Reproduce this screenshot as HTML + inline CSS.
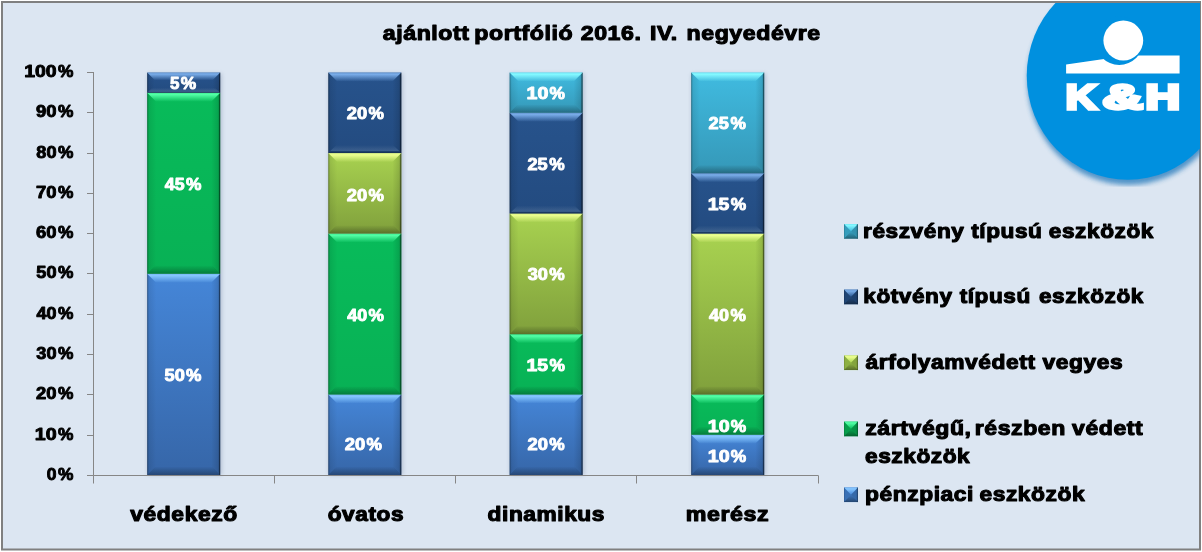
<!DOCTYPE html>
<html lang="hu"><head><meta charset="utf-8"><title>ajánlott portfólió</title>
<style>html,body{margin:0;padding:0;background:#fff;overflow:hidden}svg{display:block}</style></head>
<body>
<svg width="1202" height="552" viewBox="0 0 1202 552">
<defs>
<linearGradient id="h_penz" x1="0" y1="0" x2="0" y2="1"><stop offset="0" stop-color="#86c6ff" stop-opacity="0.75"/><stop offset="0.2" stop-color="#86c6ff" stop-opacity="1"/><stop offset="0.6" stop-color="#86c6ff" stop-opacity="0.5"/><stop offset="1" stop-color="#86c6ff" stop-opacity="0.0"/></linearGradient>
<linearGradient id="g_penz" x1="0" y1="0" x2="0" y2="1"><stop offset="0" stop-color="#4586d8"/><stop offset="1" stop-color="#3666a8"/></linearGradient>
<linearGradient id="h_zart" x1="0" y1="0" x2="0" y2="1"><stop offset="0" stop-color="#52ffa6" stop-opacity="0.75"/><stop offset="0.2" stop-color="#52ffa6" stop-opacity="1"/><stop offset="0.6" stop-color="#52ffa6" stop-opacity="0.5"/><stop offset="1" stop-color="#52ffa6" stop-opacity="0.0"/></linearGradient>
<linearGradient id="g_zart" x1="0" y1="0" x2="0" y2="1"><stop offset="0" stop-color="#08bb5a"/><stop offset="1" stop-color="#08b155"/></linearGradient>
<linearGradient id="h_arf" x1="0" y1="0" x2="0" y2="1"><stop offset="0" stop-color="#ecff90" stop-opacity="0.75"/><stop offset="0.2" stop-color="#ecff90" stop-opacity="1"/><stop offset="0.6" stop-color="#ecff90" stop-opacity="0.5"/><stop offset="1" stop-color="#ecff90" stop-opacity="0.0"/></linearGradient>
<linearGradient id="g_arf" x1="0" y1="0" x2="0" y2="1"><stop offset="0" stop-color="#a8d250"/><stop offset="1" stop-color="#80a03c"/></linearGradient>
<linearGradient id="h_kot" x1="0" y1="0" x2="0" y2="1"><stop offset="0" stop-color="#79ace8" stop-opacity="0.75"/><stop offset="0.2" stop-color="#79ace8" stop-opacity="1"/><stop offset="0.6" stop-color="#79ace8" stop-opacity="0.5"/><stop offset="1" stop-color="#79ace8" stop-opacity="0.0"/></linearGradient>
<linearGradient id="g_kot" x1="0" y1="0" x2="0" y2="1"><stop offset="0" stop-color="#27538c"/><stop offset="1" stop-color="#234b80"/></linearGradient>
<linearGradient id="h_resz" x1="0" y1="0" x2="0" y2="1"><stop offset="0" stop-color="#84f8ff" stop-opacity="0.75"/><stop offset="0.2" stop-color="#84f8ff" stop-opacity="1"/><stop offset="0.6" stop-color="#84f8ff" stop-opacity="0.5"/><stop offset="1" stop-color="#84f8ff" stop-opacity="0.0"/></linearGradient>
<linearGradient id="g_resz" x1="0" y1="0" x2="0" y2="1"><stop offset="0" stop-color="#40bbe0"/><stop offset="1" stop-color="#3598b8"/></linearGradient>
<linearGradient id="hl" x1="0" y1="0" x2="0" y2="1"><stop offset="0" stop-color="#fff" stop-opacity="0.28"/><stop offset="0.3" stop-color="#fff" stop-opacity="0.42"/><stop offset="1" stop-color="#fff" stop-opacity="0.02"/></linearGradient>
<linearGradient id="sh" x1="0" y1="0" x2="0" y2="1"><stop offset="0" stop-color="#000" stop-opacity="0.02"/><stop offset="1" stop-color="#000" stop-opacity="0.30"/></linearGradient>
<linearGradient id="shk" x1="0" y1="0" x2="0" y2="1"><stop offset="0" stop-color="#9ab" stop-opacity="0.0"/><stop offset="0.75" stop-color="#9ab" stop-opacity="0.22"/><stop offset="0.8" stop-color="#000" stop-opacity="0.15"/><stop offset="1" stop-color="#000" stop-opacity="0.4"/></linearGradient>
<linearGradient id="sh2" x1="0" y1="0" x2="0" y2="1"><stop offset="0" stop-color="#000" stop-opacity="0.12"/><stop offset="1" stop-color="#000" stop-opacity="0.48"/></linearGradient>
<linearGradient id="sl" x1="0" y1="0" x2="1" y2="0"><stop offset="0" stop-color="#000" stop-opacity="0.22"/><stop offset="0.25" stop-color="#000" stop-opacity="0.08"/><stop offset="1" stop-color="#000" stop-opacity="0.0"/></linearGradient>
<linearGradient id="sr" x1="1" y1="0" x2="0" y2="0"><stop offset="0" stop-color="#000" stop-opacity="0.40"/><stop offset="0.25" stop-color="#000" stop-opacity="0.12"/><stop offset="1" stop-color="#000" stop-opacity="0.0"/></linearGradient>
<filter id="blur" x="-20%" y="-5%" width="140%" height="110%"><feGaussianBlur stdDeviation="2.2"/></filter>
<filter id="blur2" x="-20%" y="-20%" width="140%" height="140%"><feGaussianBlur stdDeviation="2.6"/></filter>
<clipPath id="clipsh"><rect x="1000" y="3" width="200" height="183.7"/></clipPath>
<clipPath id="clipin"><rect x="3" y="3" width="1197" height="545.5"/></clipPath>
</defs>
<rect x="0" y="0" width="1202" height="552" fill="#fff"/>
<rect x="2" y="2" width="1198" height="547.5" fill="#dce6f2" stroke="#808080" stroke-width="2"/>
<g clip-path="url(#clipin)">
<g clip-path="url(#clipsh)"><ellipse cx="1128.6" cy="81" rx="101" ry="104" fill="#2f7fbd" opacity="0.8" filter="url(#blur2)"/></g>
<ellipse cx="1127.8" cy="75.7" rx="101.05" ry="104.15" fill="#0090df"/>
<polygon points="1066.1,73.5 1066.1,64.5 1104,59.1 1120,59 1134,55.6 1179.6,55.6 1179.6,73.5" fill="#fff"/>
<circle cx="1119.2" cy="40.6" r="24.3" fill="#0090df"/>
<circle cx="1123.3" cy="40.5" r="19.9" fill="#fff"/>
</g>
<rect x="147.70" y="73.60" width="74.00" height="401.40" fill="#5a6a8a" opacity="0.32" filter="url(#blur)"/>
<rect x="328.80" y="73.60" width="74.00" height="401.40" fill="#5a6a8a" opacity="0.32" filter="url(#blur)"/>
<rect x="510.10" y="73.60" width="74.00" height="401.40" fill="#5a6a8a" opacity="0.32" filter="url(#blur)"/>
<rect x="691.70" y="73.60" width="74.00" height="401.40" fill="#5a6a8a" opacity="0.32" filter="url(#blur)"/>
<rect x="147.20" y="273.80" width="73.00" height="201.20" fill="url(#g_penz)"/>
<polygon points="147.20,273.80 156.20,282.80 156.20,467.00 147.20,475.00" fill="url(#sl)"/>
<polygon points="220.20,273.80 211.20,282.80 211.20,467.00 220.20,475.00" fill="url(#sr)"/>
<rect x="219.10" y="273.80" width="1.1" height="201.20" fill="#000" opacity="0.38"/>
<rect x="147.20" y="273.80" width="0.9" height="201.20" fill="#000" opacity="0.18"/>
<polygon points="147.20,273.80 220.20,273.80 211.20,282.80 156.20,282.80" fill="url(#h_penz)"/>
<polygon points="147.20,475.00 220.20,475.00 212.20,467.00 155.20,467.00" fill="url(#sh)"/>
<rect x="147.20" y="92.72" width="73.00" height="181.08" fill="url(#g_zart)"/>
<polygon points="147.20,92.72 156.20,101.72 156.20,265.80 147.20,273.80" fill="url(#sl)"/>
<polygon points="220.20,92.72 211.20,101.72 211.20,265.80 220.20,273.80" fill="url(#sr)"/>
<rect x="219.10" y="92.72" width="1.1" height="181.08" fill="#000" opacity="0.38"/>
<rect x="147.20" y="92.72" width="0.9" height="181.08" fill="#000" opacity="0.18"/>
<polygon points="147.20,92.72 220.20,92.72 211.20,101.72 156.20,101.72" fill="url(#h_zart)"/>
<polygon points="147.20,273.80 220.20,273.80 212.20,265.80 155.20,265.80" fill="url(#sh)"/>
<rect x="147.20" y="72.60" width="73.00" height="20.12" fill="url(#g_kot)"/>
<polygon points="147.20,72.60 154.85,80.25 154.85,87.69 147.20,92.72" fill="url(#sl)"/>
<polygon points="220.20,72.60 212.55,80.25 212.55,87.69 220.20,92.72" fill="url(#sr)"/>
<rect x="219.10" y="72.60" width="1.1" height="20.12" fill="#000" opacity="0.38"/>
<rect x="147.20" y="72.60" width="0.9" height="20.12" fill="#000" opacity="0.18"/>
<polygon points="147.20,72.60 220.20,72.60 212.55,80.25 154.85,80.25" fill="url(#h_kot)"/>
<polygon points="147.20,92.72 220.20,92.72 215.17,87.69 152.23,87.69" fill="url(#shk)"/>
<rect x="328.30" y="394.52" width="73.00" height="80.48" fill="url(#g_penz)"/>
<polygon points="328.30,394.52 337.30,403.52 337.30,467.00 328.30,475.00" fill="url(#sl)"/>
<polygon points="401.30,394.52 392.30,403.52 392.30,467.00 401.30,475.00" fill="url(#sr)"/>
<rect x="400.20" y="394.52" width="1.1" height="80.48" fill="#000" opacity="0.38"/>
<rect x="328.30" y="394.52" width="0.9" height="80.48" fill="#000" opacity="0.18"/>
<polygon points="328.30,394.52 401.30,394.52 392.30,403.52 337.30,403.52" fill="url(#h_penz)"/>
<polygon points="328.30,475.00 401.30,475.00 393.30,467.00 336.30,467.00" fill="url(#sh)"/>
<rect x="328.30" y="233.56" width="73.00" height="160.96" fill="url(#g_zart)"/>
<polygon points="328.30,233.56 337.30,242.56 337.30,386.52 328.30,394.52" fill="url(#sl)"/>
<polygon points="401.30,233.56 392.30,242.56 392.30,386.52 401.30,394.52" fill="url(#sr)"/>
<rect x="400.20" y="233.56" width="1.1" height="160.96" fill="#000" opacity="0.38"/>
<rect x="328.30" y="233.56" width="0.9" height="160.96" fill="#000" opacity="0.18"/>
<polygon points="328.30,233.56 401.30,233.56 392.30,242.56 337.30,242.56" fill="url(#h_zart)"/>
<polygon points="328.30,394.52 401.30,394.52 393.30,386.52 336.30,386.52" fill="url(#sh)"/>
<rect x="328.30" y="153.08" width="73.00" height="80.48" fill="url(#g_arf)"/>
<polygon points="328.30,153.08 337.30,162.08 337.30,225.56 328.30,233.56" fill="url(#sl)"/>
<polygon points="401.30,153.08 392.30,162.08 392.30,225.56 401.30,233.56" fill="url(#sr)"/>
<rect x="400.20" y="153.08" width="1.1" height="80.48" fill="#000" opacity="0.38"/>
<rect x="328.30" y="153.08" width="0.9" height="80.48" fill="#000" opacity="0.18"/>
<polygon points="328.30,153.08 401.30,153.08 392.30,162.08 337.30,162.08" fill="url(#h_arf)"/>
<polygon points="328.30,233.56 401.30,233.56 393.30,225.56 336.30,225.56" fill="url(#sh)"/>
<rect x="328.30" y="72.60" width="73.00" height="80.48" fill="url(#g_kot)"/>
<polygon points="328.30,72.60 337.30,81.60 337.30,145.08 328.30,153.08" fill="url(#sl)"/>
<polygon points="401.30,72.60 392.30,81.60 392.30,145.08 401.30,153.08" fill="url(#sr)"/>
<rect x="400.20" y="72.60" width="1.1" height="80.48" fill="#000" opacity="0.38"/>
<rect x="328.30" y="72.60" width="0.9" height="80.48" fill="#000" opacity="0.18"/>
<polygon points="328.30,72.60 401.30,72.60 392.30,81.60 337.30,81.60" fill="url(#h_kot)"/>
<polygon points="328.30,153.08 401.30,153.08 393.30,145.08 336.30,145.08" fill="url(#shk)"/>
<rect x="509.60" y="394.52" width="73.00" height="80.48" fill="url(#g_penz)"/>
<polygon points="509.60,394.52 518.60,403.52 518.60,467.00 509.60,475.00" fill="url(#sl)"/>
<polygon points="582.60,394.52 573.60,403.52 573.60,467.00 582.60,475.00" fill="url(#sr)"/>
<rect x="581.50" y="394.52" width="1.1" height="80.48" fill="#000" opacity="0.38"/>
<rect x="509.60" y="394.52" width="0.9" height="80.48" fill="#000" opacity="0.18"/>
<polygon points="509.60,394.52 582.60,394.52 573.60,403.52 518.60,403.52" fill="url(#h_penz)"/>
<polygon points="509.60,475.00 582.60,475.00 574.60,467.00 517.60,467.00" fill="url(#sh)"/>
<rect x="509.60" y="334.16" width="73.00" height="60.36" fill="url(#g_zart)"/>
<polygon points="509.60,334.16 518.60,343.16 518.60,386.52 509.60,394.52" fill="url(#sl)"/>
<polygon points="582.60,334.16 573.60,343.16 573.60,386.52 582.60,394.52" fill="url(#sr)"/>
<rect x="581.50" y="334.16" width="1.1" height="60.36" fill="#000" opacity="0.38"/>
<rect x="509.60" y="334.16" width="0.9" height="60.36" fill="#000" opacity="0.18"/>
<polygon points="509.60,334.16 582.60,334.16 573.60,343.16 518.60,343.16" fill="url(#h_zart)"/>
<polygon points="509.60,394.52 582.60,394.52 574.60,386.52 517.60,386.52" fill="url(#sh)"/>
<rect x="509.60" y="213.44" width="73.00" height="120.72" fill="url(#g_arf)"/>
<polygon points="509.60,213.44 518.60,222.44 518.60,326.16 509.60,334.16" fill="url(#sl)"/>
<polygon points="582.60,213.44 573.60,222.44 573.60,326.16 582.60,334.16" fill="url(#sr)"/>
<rect x="581.50" y="213.44" width="1.1" height="120.72" fill="#000" opacity="0.38"/>
<rect x="509.60" y="213.44" width="0.9" height="120.72" fill="#000" opacity="0.18"/>
<polygon points="509.60,213.44 582.60,213.44 573.60,222.44 518.60,222.44" fill="url(#h_arf)"/>
<polygon points="509.60,334.16 582.60,334.16 574.60,326.16 517.60,326.16" fill="url(#sh)"/>
<rect x="509.60" y="112.84" width="73.00" height="100.60" fill="url(#g_kot)"/>
<polygon points="509.60,112.84 518.60,121.84 518.60,205.44 509.60,213.44" fill="url(#sl)"/>
<polygon points="582.60,112.84 573.60,121.84 573.60,205.44 582.60,213.44" fill="url(#sr)"/>
<rect x="581.50" y="112.84" width="1.1" height="100.60" fill="#000" opacity="0.38"/>
<rect x="509.60" y="112.84" width="0.9" height="100.60" fill="#000" opacity="0.18"/>
<polygon points="509.60,112.84 582.60,112.84 573.60,121.84 518.60,121.84" fill="url(#h_kot)"/>
<polygon points="509.60,213.44 582.60,213.44 574.60,205.44 517.60,205.44" fill="url(#shk)"/>
<rect x="509.60" y="72.60" width="73.00" height="40.24" fill="url(#g_resz)"/>
<polygon points="509.60,72.60 518.60,81.60 518.60,104.84 509.60,112.84" fill="url(#sl)"/>
<polygon points="582.60,72.60 573.60,81.60 573.60,104.84 582.60,112.84" fill="url(#sr)"/>
<rect x="581.50" y="72.60" width="1.1" height="40.24" fill="#000" opacity="0.38"/>
<rect x="509.60" y="72.60" width="0.9" height="40.24" fill="#000" opacity="0.18"/>
<polygon points="509.60,72.60 582.60,72.60 573.60,81.60 518.60,81.60" fill="url(#h_resz)"/>
<polygon points="509.60,112.84 582.60,112.84 574.60,104.84 517.60,104.84" fill="url(#sh)"/>
<rect x="691.20" y="434.76" width="73.00" height="40.24" fill="url(#g_penz)"/>
<polygon points="691.20,434.76 700.20,443.76 700.20,467.00 691.20,475.00" fill="url(#sl)"/>
<polygon points="764.20,434.76 755.20,443.76 755.20,467.00 764.20,475.00" fill="url(#sr)"/>
<rect x="763.10" y="434.76" width="1.1" height="40.24" fill="#000" opacity="0.38"/>
<rect x="691.20" y="434.76" width="0.9" height="40.24" fill="#000" opacity="0.18"/>
<polygon points="691.20,434.76 764.20,434.76 755.20,443.76 700.20,443.76" fill="url(#h_penz)"/>
<polygon points="691.20,475.00 764.20,475.00 756.20,467.00 699.20,467.00" fill="url(#sh)"/>
<rect x="691.20" y="394.52" width="73.00" height="40.24" fill="url(#g_zart)"/>
<polygon points="691.20,394.52 700.20,403.52 700.20,426.76 691.20,434.76" fill="url(#sl)"/>
<polygon points="764.20,394.52 755.20,403.52 755.20,426.76 764.20,434.76" fill="url(#sr)"/>
<rect x="763.10" y="394.52" width="1.1" height="40.24" fill="#000" opacity="0.38"/>
<rect x="691.20" y="394.52" width="0.9" height="40.24" fill="#000" opacity="0.18"/>
<polygon points="691.20,394.52 764.20,394.52 755.20,403.52 700.20,403.52" fill="url(#h_zart)"/>
<polygon points="691.20,434.76 764.20,434.76 756.20,426.76 699.20,426.76" fill="url(#sh)"/>
<rect x="691.20" y="233.56" width="73.00" height="160.96" fill="url(#g_arf)"/>
<polygon points="691.20,233.56 700.20,242.56 700.20,386.52 691.20,394.52" fill="url(#sl)"/>
<polygon points="764.20,233.56 755.20,242.56 755.20,386.52 764.20,394.52" fill="url(#sr)"/>
<rect x="763.10" y="233.56" width="1.1" height="160.96" fill="#000" opacity="0.38"/>
<rect x="691.20" y="233.56" width="0.9" height="160.96" fill="#000" opacity="0.18"/>
<polygon points="691.20,233.56 764.20,233.56 755.20,242.56 700.20,242.56" fill="url(#h_arf)"/>
<polygon points="691.20,394.52 764.20,394.52 756.20,386.52 699.20,386.52" fill="url(#sh)"/>
<rect x="691.20" y="173.20" width="73.00" height="60.36" fill="url(#g_kot)"/>
<polygon points="691.20,173.20 700.20,182.20 700.20,225.56 691.20,233.56" fill="url(#sl)"/>
<polygon points="764.20,173.20 755.20,182.20 755.20,225.56 764.20,233.56" fill="url(#sr)"/>
<rect x="763.10" y="173.20" width="1.1" height="60.36" fill="#000" opacity="0.38"/>
<rect x="691.20" y="173.20" width="0.9" height="60.36" fill="#000" opacity="0.18"/>
<polygon points="691.20,173.20 764.20,173.20 755.20,182.20 700.20,182.20" fill="url(#h_kot)"/>
<polygon points="691.20,233.56 764.20,233.56 756.20,225.56 699.20,225.56" fill="url(#shk)"/>
<rect x="691.20" y="72.60" width="73.00" height="100.60" fill="url(#g_resz)"/>
<polygon points="691.20,72.60 700.20,81.60 700.20,165.20 691.20,173.20" fill="url(#sl)"/>
<polygon points="764.20,72.60 755.20,81.60 755.20,165.20 764.20,173.20" fill="url(#sr)"/>
<rect x="763.10" y="72.60" width="1.1" height="100.60" fill="#000" opacity="0.38"/>
<rect x="691.20" y="72.60" width="0.9" height="100.60" fill="#000" opacity="0.18"/>
<polygon points="691.20,72.60 764.20,72.60 755.20,81.60 700.20,81.60" fill="url(#h_resz)"/>
<polygon points="691.20,173.20 764.20,173.20 756.20,165.20 699.20,165.20" fill="url(#sh)"/>
<path d="M93.5 72V475.5H818.3" fill="none" stroke="#868686" stroke-width="1"/>
<path d="M87.0 475.5H93.5" stroke="#868686" stroke-width="1"/>
<path d="M87.0 435.5H93.5" stroke="#868686" stroke-width="1"/>
<path d="M87.0 394.5H93.5" stroke="#868686" stroke-width="1"/>
<path d="M87.0 354.5H93.5" stroke="#868686" stroke-width="1"/>
<path d="M87.0 314.5H93.5" stroke="#868686" stroke-width="1"/>
<path d="M87.0 273.5H93.5" stroke="#868686" stroke-width="1"/>
<path d="M87.0 233.5H93.5" stroke="#868686" stroke-width="1"/>
<path d="M87.0 193.5H93.5" stroke="#868686" stroke-width="1"/>
<path d="M87.0 153.5H93.5" stroke="#868686" stroke-width="1"/>
<path d="M87.0 112.5H93.5" stroke="#868686" stroke-width="1"/>
<path d="M87.0 72.5H93.5" stroke="#868686" stroke-width="1"/>
<path d="M93.5 475.5V483.5" stroke="#868686" stroke-width="1"/>
<path d="M274.5 475.5V483.5" stroke="#868686" stroke-width="1"/>
<path d="M455.5 475.5V483.5" stroke="#868686" stroke-width="1"/>
<path d="M636.5 475.5V483.5" stroke="#868686" stroke-width="1"/>
<path d="M818.5 475.5V483.5" stroke="#868686" stroke-width="1"/>
<rect x="844.0" y="224.0" width="14.0" height="14.7" fill="#40bbe0"/>
<polygon points="844.0,224.0 858.0,224.0 851.0,231.35" fill="url(#h_resz)"/>
<polygon points="844.0,238.7 858.0,238.7 851.0,231.35" fill="url(#sh2)"/>
<polygon points="844.0,224.0 844.0,238.7 851.0,231.35" fill="#000" opacity="0.16"/>
<polygon points="858.0,224.0 858.0,238.7 851.0,231.35" fill="#000" opacity="0.22"/>
<rect x="856.8" y="224.0" width="1.2" height="14.7" fill="#000" opacity="0.3"/>
<rect x="844.0" y="224.0" width="0.8" height="14.7" fill="#000" opacity="0.15"/>
<rect x="844.0" y="289.6" width="14.0" height="14.7" fill="#27538c"/>
<polygon points="844.0,289.6 858.0,289.6 851.0,296.95000000000005" fill="url(#h_kot)"/>
<polygon points="844.0,304.3 858.0,304.3 851.0,296.95000000000005" fill="url(#sh2)"/>
<polygon points="844.0,289.6 844.0,304.3 851.0,296.95000000000005" fill="#000" opacity="0.16"/>
<polygon points="858.0,289.6 858.0,304.3 851.0,296.95000000000005" fill="#000" opacity="0.22"/>
<rect x="856.8" y="289.6" width="1.2" height="14.7" fill="#000" opacity="0.3"/>
<rect x="844.0" y="289.6" width="0.8" height="14.7" fill="#000" opacity="0.15"/>
<rect x="844.0" y="355.4" width="14.0" height="14.7" fill="#a8d250"/>
<polygon points="844.0,355.4 858.0,355.4 851.0,362.75" fill="url(#h_arf)"/>
<polygon points="844.0,370.09999999999997 858.0,370.09999999999997 851.0,362.75" fill="url(#sh2)"/>
<polygon points="844.0,355.4 844.0,370.09999999999997 851.0,362.75" fill="#000" opacity="0.16"/>
<polygon points="858.0,355.4 858.0,370.09999999999997 851.0,362.75" fill="#000" opacity="0.22"/>
<rect x="856.8" y="355.4" width="1.2" height="14.7" fill="#000" opacity="0.3"/>
<rect x="844.0" y="355.4" width="0.8" height="14.7" fill="#000" opacity="0.15"/>
<rect x="844.0" y="421.6" width="14.0" height="14.7" fill="#08bb5a"/>
<polygon points="844.0,421.6 858.0,421.6 851.0,428.95000000000005" fill="url(#h_zart)"/>
<polygon points="844.0,436.3 858.0,436.3 851.0,428.95000000000005" fill="url(#sh2)"/>
<polygon points="844.0,421.6 844.0,436.3 851.0,428.95000000000005" fill="#000" opacity="0.16"/>
<polygon points="858.0,421.6 858.0,436.3 851.0,428.95000000000005" fill="#000" opacity="0.22"/>
<rect x="856.8" y="421.6" width="1.2" height="14.7" fill="#000" opacity="0.3"/>
<rect x="844.0" y="421.6" width="0.8" height="14.7" fill="#000" opacity="0.15"/>
<rect x="844.0" y="487.4" width="14.0" height="14.7" fill="#4586d8"/>
<polygon points="844.0,487.4 858.0,487.4 851.0,494.75" fill="url(#h_penz)"/>
<polygon points="844.0,502.09999999999997 858.0,502.09999999999997 851.0,494.75" fill="url(#sh2)"/>
<polygon points="844.0,487.4 844.0,502.09999999999997 851.0,494.75" fill="#000" opacity="0.16"/>
<polygon points="858.0,487.4 858.0,502.09999999999997 851.0,494.75" fill="#000" opacity="0.22"/>
<rect x="856.8" y="487.4" width="1.2" height="14.7" fill="#000" opacity="0.3"/>
<rect x="844.0" y="487.4" width="0.8" height="14.7" fill="#000" opacity="0.15"/>
<g font-family="'Liberation Sans', sans-serif" font-weight="bold" stroke-linejoin="round">
<text letter-spacing="0.5" transform="translate(130.27 520.60) scale(1.1385 1)" font-size="20.1" fill="#000" stroke="#000" stroke-width="1.1">védekező</text>
<text letter-spacing="0.5" transform="translate(327.72 520.60) scale(1.1266 1)" font-size="20.1" fill="#000" stroke="#000" stroke-width="1.1">óvatos</text>
<text letter-spacing="0.5" transform="translate(487.62 520.60) scale(1.1299 1)" font-size="20.1" fill="#000" stroke="#000" stroke-width="1.1">dinamikus</text>
<text letter-spacing="0.5" transform="translate(685.73 520.60) scale(1.1562 1)" font-size="20.1" fill="#000" stroke="#000" stroke-width="1.1">merész</text>
<text letter-spacing="0.5" transform="translate(865.02 463.20) scale(1.1282 1)" font-size="20.1" fill="#000" stroke="#000" stroke-width="1.1">eszközök</text>
<text letter-spacing="0.5" transform="translate(0 40.00) scale(1.1509 1)" font-size="20.1" fill="#000" stroke="#000" stroke-width="1.1"><tspan x="332.61">ajánlott</tspan> <tspan x="412.12">portfólió</tspan> <tspan x="504.58">2016.</tspan> <tspan x="564.76">IV.</tspan> <tspan x="596.51">negyedévre</tspan></text>
<text letter-spacing="0.5" transform="translate(0 237.50) scale(1.1269 1)" font-size="20.1" fill="#000" stroke="#000" stroke-width="1.1"><tspan x="765.86">részvény</tspan> <tspan x="861.82">típusú</tspan> <tspan x="930.71">eszközök</tspan></text>
<text letter-spacing="0.5" transform="translate(0 303.20) scale(1.1239 1)" font-size="20.1" fill="#000" stroke="#000" stroke-width="1.1"><tspan x="768.15">kötvény</tspan> <tspan x="853.88">típusú</tspan> <tspan x="924.45">eszközök</tspan></text>
<text letter-spacing="0.5" transform="translate(0 368.75) scale(1.1339 1)" font-size="20.1" fill="#000" stroke="#000" stroke-width="1.1"><tspan x="763.41">árfolyamvédett</tspan> <tspan x="919.48">vegyes</tspan></text>
<text letter-spacing="0.5" transform="translate(0 434.50) scale(1.1468 1)" font-size="20.1" fill="#000" stroke="#000" stroke-width="1.1"><tspan x="754.52">zártvégű,</tspan> <tspan x="850.01">részben</tspan> <tspan x="934.80">védett</tspan></text>
<text letter-spacing="0.5" transform="translate(0 500.50) scale(1.1348 1)" font-size="20.1" fill="#000" stroke="#000" stroke-width="1.1"><tspan x="762.23">pénzpiaci</tspan> <tspan x="863.07">eszközök</tspan></text>
<text y="479.70" font-size="16.5" fill="#000" stroke="#000" stroke-width="0.9"><tspan x="46.75" textLength="9.72" lengthAdjust="spacingAndGlyphs">0</tspan><tspan x="57.90" textLength="15.42" lengthAdjust="spacingAndGlyphs">%</tspan></text>
<text y="439.70" font-size="16.5" fill="#000" stroke="#000" stroke-width="0.9"><tspan x="34.88" textLength="21.83" lengthAdjust="spacingAndGlyphs">10</tspan><tspan x="57.90" textLength="15.42" lengthAdjust="spacingAndGlyphs">%</tspan></text>
<text y="398.70" font-size="16.5" fill="#000" stroke="#000" stroke-width="0.9"><tspan x="36.08" textLength="20.48" lengthAdjust="spacingAndGlyphs">20</tspan><tspan x="57.90" textLength="15.42" lengthAdjust="spacingAndGlyphs">%</tspan></text>
<text y="358.70" font-size="16.5" fill="#000" stroke="#000" stroke-width="0.9"><tspan x="36.33" textLength="20.22" lengthAdjust="spacingAndGlyphs">30</tspan><tspan x="57.90" textLength="15.42" lengthAdjust="spacingAndGlyphs">%</tspan></text>
<text y="318.70" font-size="16.5" fill="#000" stroke="#000" stroke-width="0.9"><tspan x="36.58" textLength="19.95" lengthAdjust="spacingAndGlyphs">40</tspan><tspan x="57.90" textLength="15.42" lengthAdjust="spacingAndGlyphs">%</tspan></text>
<text y="277.70" font-size="16.5" fill="#000" stroke="#000" stroke-width="0.9"><tspan x="36.33" textLength="20.22" lengthAdjust="spacingAndGlyphs">50</tspan><tspan x="57.90" textLength="15.42" lengthAdjust="spacingAndGlyphs">%</tspan></text>
<text y="237.70" font-size="16.5" fill="#000" stroke="#000" stroke-width="0.9"><tspan x="36.08" textLength="20.50" lengthAdjust="spacingAndGlyphs">60</tspan><tspan x="57.90" textLength="15.42" lengthAdjust="spacingAndGlyphs">%</tspan></text>
<text y="197.70" font-size="16.5" fill="#000" stroke="#000" stroke-width="0.9"><tspan x="36.08" textLength="20.50" lengthAdjust="spacingAndGlyphs">70</tspan><tspan x="57.90" textLength="15.42" lengthAdjust="spacingAndGlyphs">%</tspan></text>
<text y="157.70" font-size="16.5" fill="#000" stroke="#000" stroke-width="0.9"><tspan x="36.33" textLength="20.22" lengthAdjust="spacingAndGlyphs">80</tspan><tspan x="57.90" textLength="15.42" lengthAdjust="spacingAndGlyphs">%</tspan></text>
<text y="116.70" font-size="16.5" fill="#000" stroke="#000" stroke-width="0.9"><tspan x="36.08" textLength="20.50" lengthAdjust="spacingAndGlyphs">90</tspan><tspan x="57.90" textLength="15.42" lengthAdjust="spacingAndGlyphs">%</tspan></text>
<text y="76.70" font-size="16.5" fill="#000" stroke="#000" stroke-width="0.9"><tspan x="24.21" textLength="32.37" lengthAdjust="spacingAndGlyphs">100</tspan><tspan x="57.90" textLength="15.42" lengthAdjust="spacingAndGlyphs">%</tspan></text>
<text y="381.10" font-size="16.5" fill="#fff" stroke="#fff" stroke-width="0.9"><tspan x="164.56" textLength="20.22" lengthAdjust="spacingAndGlyphs">50</tspan><tspan x="186.13" textLength="15.42" lengthAdjust="spacingAndGlyphs">%</tspan></text>
<text y="190.10" font-size="16.5" fill="#fff" stroke="#fff" stroke-width="0.9"><tspan x="164.81" textLength="19.70" lengthAdjust="spacingAndGlyphs">45</tspan><tspan x="186.13" textLength="15.42" lengthAdjust="spacingAndGlyphs">%</tspan></text>
<text y="89.10" font-size="16.5" fill="#fff" stroke="#fff" stroke-width="0.9"><tspan x="169.90" textLength="9.44" lengthAdjust="spacingAndGlyphs">5</tspan><tspan x="180.80" textLength="15.42" lengthAdjust="spacingAndGlyphs">%</tspan></text>
<text y="450.10" font-size="16.5" fill="#fff" stroke="#fff" stroke-width="0.9"><tspan x="344.72" textLength="20.48" lengthAdjust="spacingAndGlyphs">20</tspan><tspan x="366.54" textLength="15.42" lengthAdjust="spacingAndGlyphs">%</tspan></text>
<text y="321.40" font-size="16.5" fill="#fff" stroke="#fff" stroke-width="0.9"><tspan x="347.22" textLength="19.95" lengthAdjust="spacingAndGlyphs">40</tspan><tspan x="368.54" textLength="15.42" lengthAdjust="spacingAndGlyphs">%</tspan></text>
<text y="200.60" font-size="16.5" fill="#fff" stroke="#fff" stroke-width="0.9"><tspan x="346.72" textLength="20.48" lengthAdjust="spacingAndGlyphs">20</tspan><tspan x="368.54" textLength="15.42" lengthAdjust="spacingAndGlyphs">%</tspan></text>
<text y="119.10" font-size="16.5" fill="#fff" stroke="#fff" stroke-width="0.9"><tspan x="346.72" textLength="20.48" lengthAdjust="spacingAndGlyphs">20</tspan><tspan x="368.54" textLength="15.42" lengthAdjust="spacingAndGlyphs">%</tspan></text>
<text y="450.10" font-size="16.5" fill="#fff" stroke="#fff" stroke-width="0.9"><tspan x="527.42" textLength="20.48" lengthAdjust="spacingAndGlyphs">20</tspan><tspan x="549.24" textLength="15.42" lengthAdjust="spacingAndGlyphs">%</tspan></text>
<text y="371.30" font-size="16.5" fill="#fff" stroke="#fff" stroke-width="0.9"><tspan x="526.57" textLength="21.57" lengthAdjust="spacingAndGlyphs">15</tspan><tspan x="549.59" textLength="15.42" lengthAdjust="spacingAndGlyphs">%</tspan></text>
<text y="280.30" font-size="16.5" fill="#fff" stroke="#fff" stroke-width="0.9"><tspan x="527.67" textLength="20.22" lengthAdjust="spacingAndGlyphs">30</tspan><tspan x="549.24" textLength="15.42" lengthAdjust="spacingAndGlyphs">%</tspan></text>
<text y="170.40" font-size="16.5" fill="#fff" stroke="#fff" stroke-width="0.9"><tspan x="527.42" textLength="20.22" lengthAdjust="spacingAndGlyphs">25</tspan><tspan x="549.24" textLength="15.42" lengthAdjust="spacingAndGlyphs">%</tspan></text>
<text y="99.10" font-size="16.5" fill="#fff" stroke="#fff" stroke-width="0.9"><tspan x="526.57" textLength="21.83" lengthAdjust="spacingAndGlyphs">10</tspan><tspan x="549.59" textLength="15.42" lengthAdjust="spacingAndGlyphs">%</tspan></text>
<text y="462.10" font-size="16.5" fill="#fff" stroke="#fff" stroke-width="0.9"><tspan x="707.77" textLength="21.83" lengthAdjust="spacingAndGlyphs">10</tspan><tspan x="730.79" textLength="15.42" lengthAdjust="spacingAndGlyphs">%</tspan></text>
<text y="432.30" font-size="16.5" fill="#fff" stroke="#fff" stroke-width="0.9"><tspan x="707.77" textLength="21.83" lengthAdjust="spacingAndGlyphs">10</tspan><tspan x="730.79" textLength="15.42" lengthAdjust="spacingAndGlyphs">%</tspan></text>
<text y="321.30" font-size="16.5" fill="#fff" stroke="#fff" stroke-width="0.9"><tspan x="709.12" textLength="19.95" lengthAdjust="spacingAndGlyphs">40</tspan><tspan x="730.44" textLength="15.42" lengthAdjust="spacingAndGlyphs">%</tspan></text>
<text y="210.40" font-size="16.5" fill="#fff" stroke="#fff" stroke-width="0.9"><tspan x="707.77" textLength="21.57" lengthAdjust="spacingAndGlyphs">15</tspan><tspan x="730.79" textLength="15.42" lengthAdjust="spacingAndGlyphs">%</tspan></text>
<text y="129.30" font-size="16.5" fill="#fff" stroke="#fff" stroke-width="0.9"><tspan x="708.62" textLength="20.22" lengthAdjust="spacingAndGlyphs">25</tspan><tspan x="730.44" textLength="15.42" lengthAdjust="spacingAndGlyphs">%</tspan></text>
<text y="109" font-size="35.8" fill="#fff" stroke="#fff" stroke-width="3.4" stroke-linejoin="miter"><tspan x="1065.75" textLength="31.12" lengthAdjust="spacingAndGlyphs">K</tspan><tspan x="1102.45" textLength="40.5" lengthAdjust="spacingAndGlyphs">&amp;</tspan><tspan x="1145.5" textLength="34.57" lengthAdjust="spacingAndGlyphs">H</tspan></text>
</g>
</svg>
</body></html>
